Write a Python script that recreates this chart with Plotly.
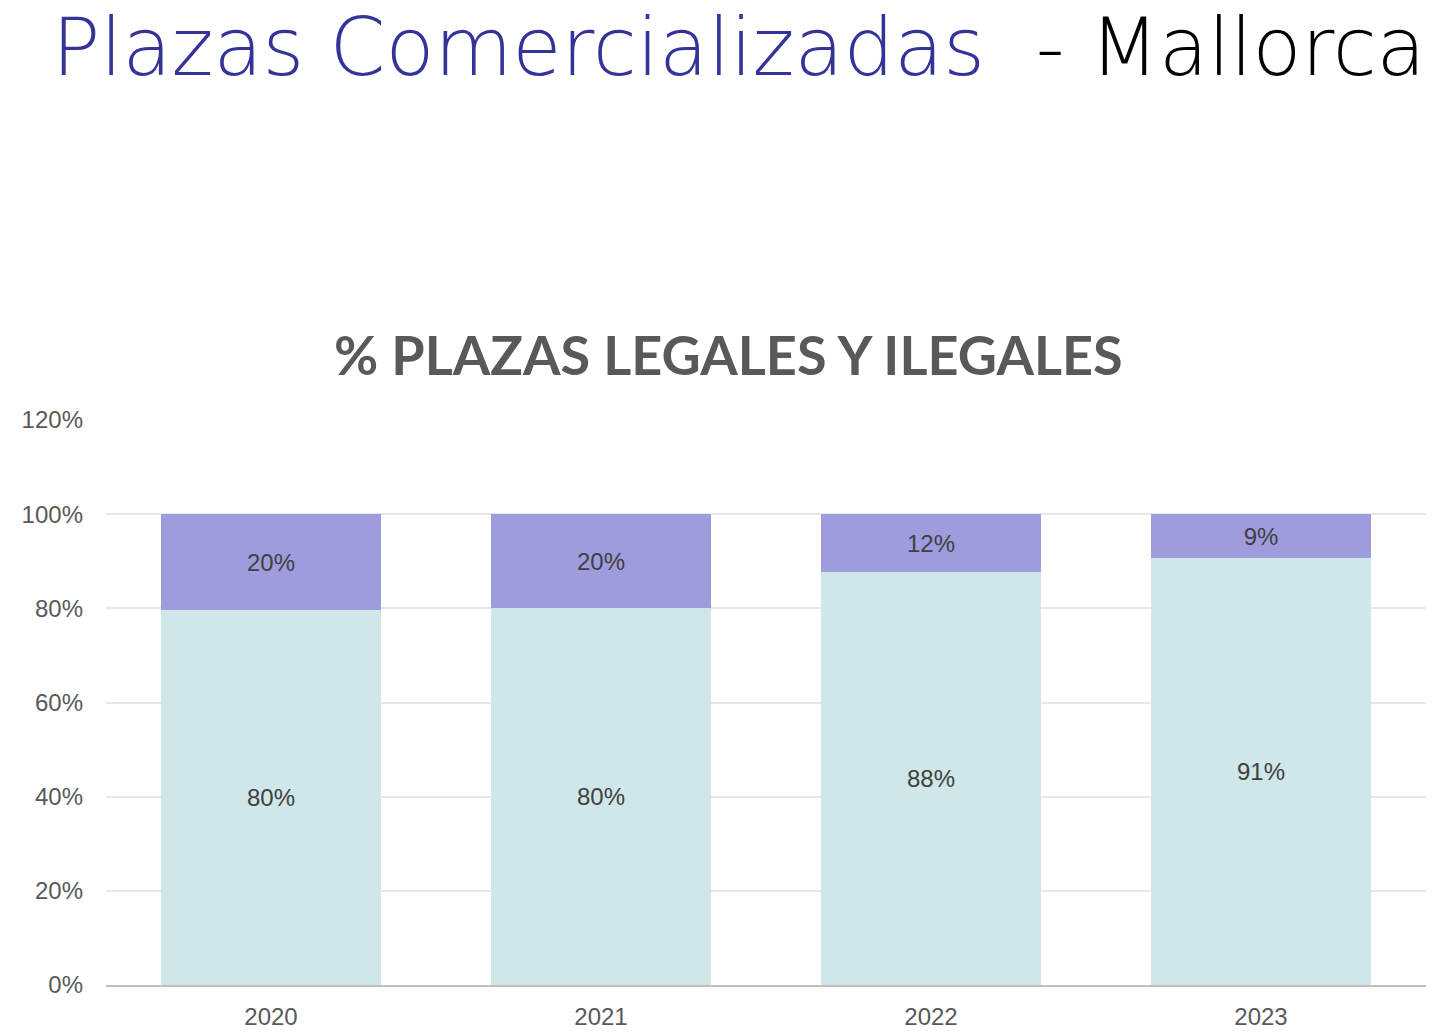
import plotly.graph_objects as go

years = ["2020", "2021", "2022", "2023"]
legales = [79.6, 80.1, 87.7, 90.7]
ilegales = [20.4, 19.9, 12.3, 9.3]
legal_labels = ["80%", "80%", "88%", "91%"]
ilegal_labels = ["20%", "20%", "12%", "9%"]
y_ticks = [0, 20, 40, 60, 80, 100, 120]

label_font = dict(family="Liberation Sans, Arial", size=24, color="#404040")

fig = go.Figure()
fig.add_trace(go.Bar(
    x=years, y=legales, name="Legales", marker=dict(color="#cfe7e8", line=dict(width=0)),
    text=legal_labels, textposition="inside", insidetextanchor="middle",
    textfont=label_font, hoverinfo="skip"))
fig.add_trace(go.Bar(
    x=years, y=ilegales, name="Ilegales", marker=dict(color="#9f9cde", line=dict(width=0)),
    text=ilegal_labels, textposition="inside", insidetextanchor="middle",
    textfont=label_font, hoverinfo="skip"))

fig.update_layout(
    barmode="stack", bargap=0.336,
    width=1428, height=1023,
    margin=dict(l=98, r=10, t=412, b=46),
    paper_bgcolor="white", plot_bgcolor="white",
    showlegend=False,
    uniformtext=dict(mode=False),
    xaxis=dict(
        showgrid=False, showline=True, linecolor="#bfbfbf", linewidth=2,
        tickfont=dict(family="Liberation Sans, Arial", size=24, color="#595959"),
        ticks="", ticklen=0, automargin=False, ticklabelstandoff=9,
    ),
    yaxis=dict(
        range=[0, 120], tickvals=y_ticks, ticktext=[f"{v}%" for v in y_ticks],
        showgrid=True, gridcolor="#e8e8e8", gridwidth=1.5, zeroline=False,
        showline=False, automargin=False,
        tickfont=dict(family="Liberation Sans, Arial", size=24, color="#595959"),
        ticks="", ticklabelstandoff=22,
    ),
    annotations=[
        dict(
            text="<span style='color:#333399'>Plazas Comercializadas</span>  - Mallorca",
            xref="paper", yref="paper", x=(739 - 106) / 1320, y=(985 - 47) / 565,
            xanchor="center", yanchor="middle", showarrow=False,
            font=dict(family="DejaVu Sans", size=80, color="#000000", weight=200),
        ),
        dict(
            text="% PLAZAS LEGALES Y ILEGALES",
            xref="paper", yref="paper", x=(728 - 106) / 1320, y=(985 - 354) / 565,
            xanchor="center", yanchor="middle", showarrow=False,
            font=dict(family="Lato, DejaVu Sans", size=54, color="#595959", weight=700),
        ),
    ],
)

fig.write_html("out.html")
